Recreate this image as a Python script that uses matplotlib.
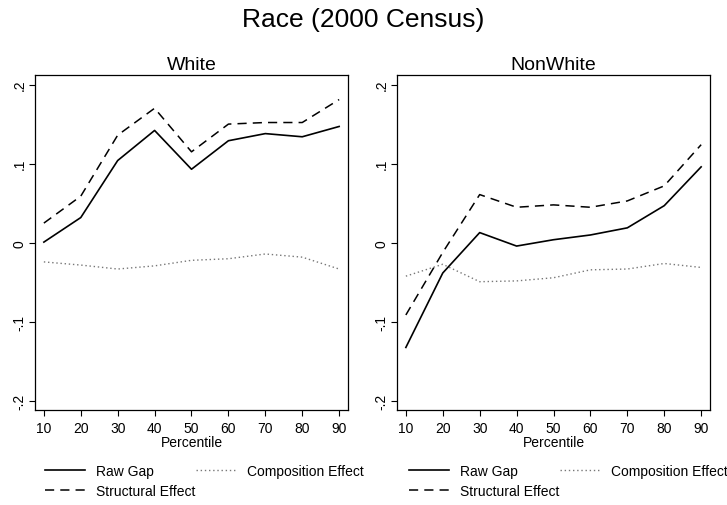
import matplotlib
matplotlib.use("Agg")
import matplotlib.pyplot as plt

plt.rcParams["font.family"] = ["Liberation Sans", "DejaVu Sans"]

percentile = [10, 20, 30, 40, 50, 60, 70, 80, 90]

# White
white_raw = [0.001, 0.032, 0.104, 0.142, 0.093, 0.129, 0.138, 0.134, 0.147]
white_struct = [0.025, 0.059, 0.136, 0.170, 0.115, 0.150, 0.152, 0.152, 0.181]
white_comp = [-0.024, -0.028, -0.033, -0.029, -0.022, -0.020, -0.014, -0.018, -0.033]

# NonWhite
nonwhite_raw = [-0.132, -0.038, 0.013, -0.004, 0.004, 0.010, 0.019, 0.047, 0.096]
nonwhite_struct = [-0.091, -0.012, 0.061, 0.045, 0.048, 0.045, 0.053, 0.072, 0.124]
nonwhite_comp = [-0.042, -0.027, -0.049, -0.048, -0.044, -0.034, -0.033, -0.026, -0.031]

yticks = [-0.2, -0.1, 0, 0.1, 0.2]
ytick_labels = ["-.2", "-.1", "0", ".1", ".2"]

W, H = 727, 506
fig = plt.figure(figsize=(W / 100, H / 100), dpi=100)
fig.text(0.5, 1 - 20 / H, "Race (2000 Census)", ha="center", va="center", fontsize=19)

panels = [
    ("White", 35, white_raw, white_struct, white_comp, 45),
    ("NonWhite", 397, nonwhite_raw, nonwhite_struct, nonwhite_comp, 409),
]

for title, x0, raw, struct, comp, lx in panels:
    ax = fig.add_axes([x0 / W, 1 - 411 / H, 313 / W, 335 / H])
    h1, = ax.plot(percentile, raw, color="black", lw=1.2, label="Raw Gap")
    h2, = ax.plot(percentile, struct, color="black", lw=1.1,
                  linestyle=(0, (6, 4)), label="Structural Effect")
    h3, = ax.plot(percentile, comp, color="#777777", lw=1.0,
                  linestyle=(0, (1, 2)), label="Composition Effect")
    ax.set_xlim(7.6, 92.4)
    ax.set_ylim(-0.211, 0.212)
    ax.set_xticks(percentile)
    ax.set_yticks(yticks)
    ax.set_yticklabels(ytick_labels, rotation=90, va="center")
    ax.tick_params(direction="out", length=4, width=0.8, labelsize=10, pad=2)
    ax.tick_params(axis="x", pad=4)
    for s in ax.spines.values():
        s.set_linewidth(0.9)
    ax.set_xlabel("Percentile", fontsize=10, labelpad=0)
    ax.set_title(title, fontsize=14, pad=4)
    fig.legend(handles=[h1, h2, h3], ncol=2, loc="upper left",
               bbox_to_anchor=(lx / W, 1 - 465 / H), frameon=False,
               fontsize=10, handlelength=2.9, handletextpad=0.8,
               columnspacing=0.0, borderpad=0, borderaxespad=0,
               labelspacing=0.45)

fig.savefig("out.png", dpi=100)
